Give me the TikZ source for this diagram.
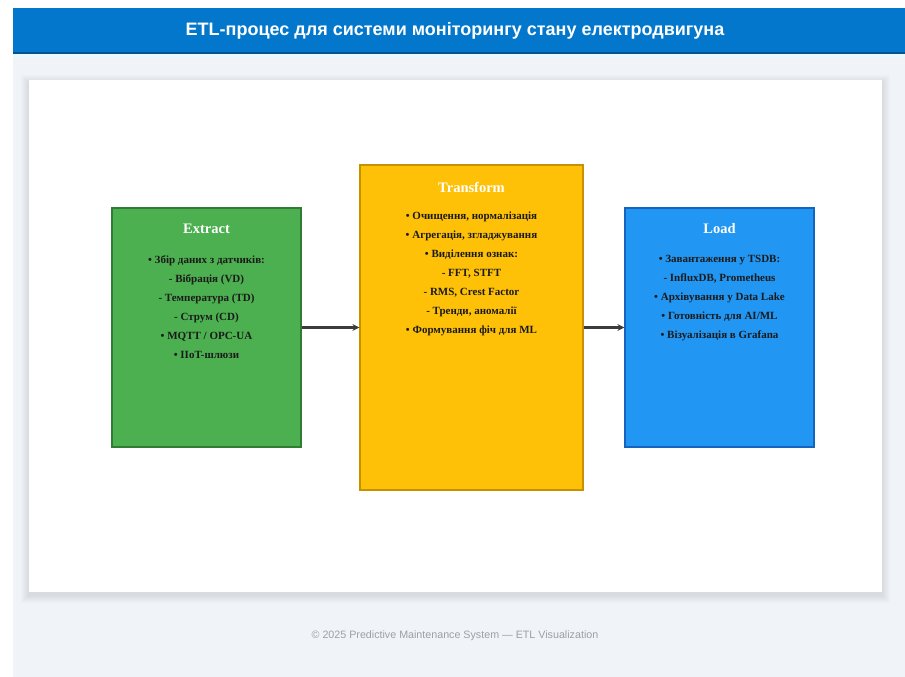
\documentclass[tikz,border=0pt]{standalone}
\usepackage{fontspec}
\setmainfont{Liberation Serif}
\newfontfamily\headfont{Liberation Sans}
\usetikzlibrary{arrows.meta}

\definecolor{pagebg}{HTML}{F0F4F8}
\definecolor{headblue}{HTML}{0277CC}
\definecolor{extractfill}{HTML}{4CAF50}
\definecolor{extractline}{HTML}{2E7D32}
\definecolor{transformfill}{HTML}{FFC107}
\definecolor{transformline}{HTML}{C79100}
\definecolor{loadfill}{HTML}{2196F3}
\definecolor{loadline}{HTML}{1565C0}
\definecolor{bodytext}{HTML}{1A1A1A}
\definecolor{footgray}{HTML}{9AA0A8}
\definecolor{arrowgray}{HTML}{3C3C3C}

\tikzset{
  stagebox/.style={draw, line width=1.2pt, inner sep=0pt},
  stagetitle/.style={text=white, font=\fontsize{14.5}{16}\selectfont\bfseries},
  stagebody/.style={text=bodytext, align=center, font=\fontsize{11}{19}\selectfont\bfseries},
  flowarrow/.style={draw=arrowgray, line width=2.2pt, -{Stealth[length=7pt,width=7pt]}}
}

\begin{document}
\begin{tikzpicture}[x=1pt, y=-1pt]
  \useasboundingbox (0,0) rectangle (905,677);
  \fill[white] (0,0) rectangle (905,677);
  % page background
  \fill[pagebg] (13,53) rectangle (905,677);
  % header bar
  \fill[headblue] (13,8) rectangle (905,53);
  \fill[headblue!70!black] (13,52) rectangle (905,54);
  \fill[cyan!8] (13,54) rectangle (905,58);
  \node[text=white, font=\headfont\fontsize{18}{20}\selectfont\bfseries] (title) at (455,31)
    {ETL-процес для системи моніторингу стану електродвигуна};

  % card with soft shadow
  \foreach \s in {1,...,8}
    \fill[black, opacity=0.012] (29-\s,80-\s+3) rectangle (882+\s,592+\s+3);
  \fill[white] (29,80) rectangle (882,592);

  % stage boxes
  \node[stagebox, draw=extractline, fill=extractfill, minimum width=189pt, minimum height=239pt]
    (extract) at (206.5,327.5) {};
  \node[stagebox, draw=transformline, fill=transformfill, minimum width=223pt, minimum height=325pt]
    (transform) at (471.5,327.5) {};
  \node[stagebox, draw=loadline, fill=loadfill, minimum width=189pt, minimum height=239pt]
    (load) at (719.5,327.5) {};

  % Extract
  \node[stagetitle] (extracttitle) at (206.5,229) {Extract};
  \node[stagebody] (extractbody) at (206.5,307) {%
    • Збір даних з датчиків:\\
    - Вібрація (VD)\\
    - Температура (TD)\\
    - Струм (CD)\\
    • MQTT / OPC-UA\\
    • IIoT-шлюзи};

  % Transform
  \node[stagetitle] (transformtitle) at (471.5,187) {Transform};
  \node[stagebody] (transformbody) at (471.5,274) {%
    • Очищення, нормалізація\\
    • Агрегація, згладжування\\
    • Виділення ознак:\\
    - FFT, STFT\\
    - RMS, Crest Factor\\
    - Тренди, аномалії\\
    • Формування фіч для ML};

  % Load
  \node[stagetitle] (loadtitle) at (719.5,229) {Load};
  \node[stagebody] (loadbody) at (719.5,298.5) {%
    • Завантаження у TSDB:\\
    - InfluxDB, Prometheus\\
    • Архівування у Data Lake\\
    • Готовність для AI/ML\\
    • Візуалізація в Grafana};

  % connectors
  \draw[flowarrow] (extract.east) -- (transform.west);
  \draw[flowarrow] (transform.east) -- (load.west);

  % footer
  \node[text=footgray, font=\headfont\fontsize{10.7}{13}\selectfont] (footer) at (455,636)
    {© 2025 Predictive Maintenance System — ETL Visualization};
\end{tikzpicture}
\end{document}
